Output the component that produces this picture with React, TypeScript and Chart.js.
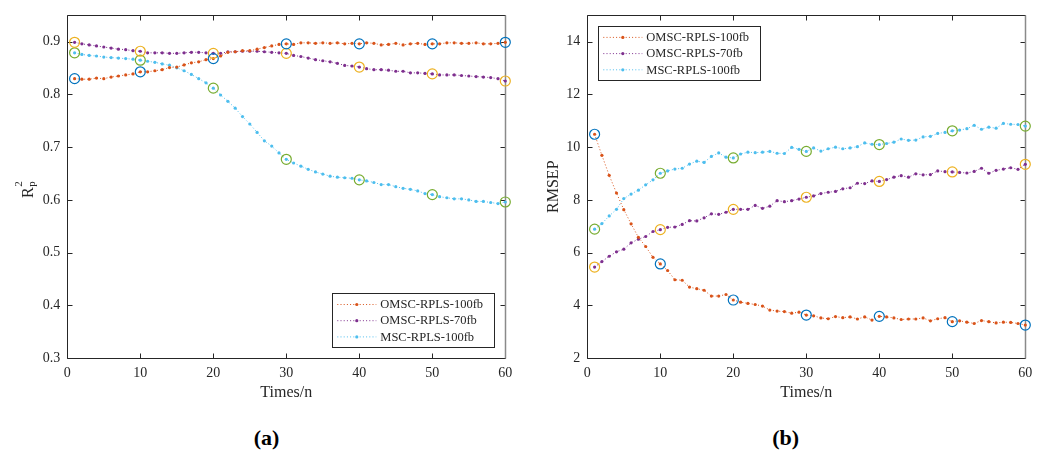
import React, { useEffect, useRef } from 'react';
import { Chart, registerables } from 'chart.js';

Chart.register(...registerables);

const times = [1, 2, 3, 4, 5, 6, 7, 8, 9, 10, 11, 12, 13, 14, 15, 16, 17, 18, 19, 20,
  21, 22, 23, 24, 25, 26, 27, 28, 29, 30, 31, 32, 33, 34, 35, 36, 37, 38, 39, 40,
  41, 42, 43, 44, 45, 46, 47, 48, 49, 50, 51, 52, 53, 54, 55, 56, 57, 58, 59, 60];
const markTimes = [1, 10, 20, 30, 40, 50, 60];
const xTicks = [0, 10, 20, 30, 40, 50, 60];
const r2Ticks = [0.3, 0.4, 0.5, 0.6, 0.7, 0.8, 0.9];
const rmsepTicks = [2, 4, 6, 8, 10, 12, 14];
const seriesNames = ['OMSC-RPLS-100fb', 'OMSC-RPLS-70fb', 'MSC-RPLS-100fb'];

const r2Omsc100 = [0.830, 0.829, 0.829, 0.831, 0.830, 0.833, 0.835, 0.837, 0.839, 0.843,
  0.843, 0.845, 0.847, 0.851, 0.852, 0.856, 0.860, 0.862, 0.866, 0.868,
  0.873, 0.880, 0.881, 0.883, 0.883, 0.886, 0.889, 0.892, 0.895, 0.896,
  0.895, 0.898, 0.898, 0.897, 0.898, 0.897, 0.898, 0.896, 0.897, 0.896,
  0.898, 0.897, 0.894, 0.895, 0.897, 0.894, 0.896, 0.897, 0.895, 0.896,
  0.896, 0.898, 0.898, 0.897, 0.897, 0.898, 0.896, 0.896, 0.897, 0.899];
const r2Omsc70 = [0.899, 0.896, 0.894, 0.892, 0.890, 0.888, 0.886, 0.885, 0.883, 0.882,
  0.879, 0.879, 0.879, 0.878, 0.878, 0.879, 0.880, 0.880, 0.879, 0.878,
  0.878, 0.881, 0.881, 0.882, 0.882, 0.882, 0.881, 0.880, 0.879, 0.878,
  0.874, 0.872, 0.869, 0.866, 0.864, 0.862, 0.859, 0.855, 0.854, 0.852,
  0.849, 0.847, 0.847, 0.846, 0.844, 0.844, 0.841, 0.841, 0.840, 0.839,
  0.837, 0.837, 0.837, 0.836, 0.835, 0.834, 0.833, 0.832, 0.830, 0.8255];
const r2Msc100 = [0.879, 0.876, 0.874, 0.873, 0.871, 0.870, 0.869, 0.868, 0.867, 0.865,
  0.863, 0.861, 0.858, 0.8555, 0.8505, 0.845, 0.838, 0.830, 0.822, 0.812,
  0.799, 0.787, 0.774, 0.758, 0.744, 0.728, 0.712, 0.702, 0.689, 0.677,
  0.670, 0.664, 0.658, 0.653, 0.649, 0.645, 0.643, 0.642, 0.641, 0.638,
  0.636, 0.633, 0.629, 0.629, 0.625, 0.622, 0.620, 0.617, 0.612, 0.610,
  0.606, 0.604, 0.602, 0.602, 0.600, 0.597, 0.597, 0.595, 0.593, 0.596];

const rmsepOmsc100 = [10.49, 9.69, 8.93, 8.26, 7.63, 7.09, 6.58, 6.23, 5.82, 5.57,
  5.32, 4.97, 4.95, 4.69, 4.63, 4.57, 4.35, 4.35, 4.41, 4.20,
  4.12, 4.07, 4.03, 3.97, 3.82, 3.78, 3.76, 3.70, 3.74, 3.63,
  3.60, 3.52, 3.49, 3.57, 3.53, 3.56, 3.48, 3.56, 3.44, 3.58,
  3.56, 3.52, 3.46, 3.48, 3.48, 3.52, 3.41, 3.49, 3.53, 3.38,
  3.41, 3.36, 3.31, 3.42, 3.38, 3.33, 3.36, 3.35, 3.31, 3.25];
const rmsepOmsc70 = [5.45, 5.66, 5.86, 6.03, 6.13, 6.37, 6.51, 6.61, 6.80, 6.87,
  6.96, 6.97, 7.07, 7.21, 7.20, 7.32, 7.47, 7.45, 7.53, 7.64,
  7.64, 7.64, 7.79, 7.68, 7.76, 7.97, 7.93, 7.97, 8.03, 8.10,
  8.15, 8.24, 8.29, 8.32, 8.42, 8.46, 8.63, 8.62, 8.72, 8.70,
  8.77, 8.86, 8.92, 8.86, 8.99, 8.95, 8.96, 9.10, 9.07, 9.06,
  9.04, 9.02, 9.08, 9.20, 9.01, 9.12, 9.17, 9.22, 9.16, 9.35];
const rmsepMsc100 = [6.89, 7.10, 7.39, 7.64, 8.05, 8.22, 8.37, 8.57, 8.76, 9.01,
  9.10, 9.17, 9.20, 9.36, 9.47, 9.42, 9.65, 9.78, 9.62, 9.59,
  9.74, 9.81, 9.79, 9.81, 9.84, 9.77, 9.76, 9.99, 9.92, 9.84,
  9.97, 9.85, 9.94, 10.00, 9.94, 9.97, 10.02, 10.16, 10.11, 10.10,
  10.14, 10.19, 10.31, 10.26, 10.27, 10.39, 10.41, 10.52, 10.56, 10.62,
  10.65, 10.70, 10.83, 10.68, 10.76, 10.72, 10.90, 10.87, 10.86, 10.80];

const FONT = "'Liberation Serif', 'Times New Roman', Times, serif";
const INK = '#262626';
const lineColors = ['#D95319', '#7E2F8E', '#4DBEEE'];
const ringColors = ['#0072BD', '#EDB120', '#77AC30'];

type PanelProps = {
  series: number[][];
  yMin: number;
  yMax: number;
  yTicks: number[];
  yTitle: string | null;
  legendCorner: 'br' | 'tl';
};

const framePlugin = {
  id: 'frame',
  beforeDatasetsDraw(chart: any) {
    const { ctx, chartArea: a, scales } = chart;
    ctx.save();
    ctx.strokeStyle = INK;
    ctx.lineWidth = 1;
    const L = Math.round(a.left) + 0.5, R = Math.round(a.right) + 0.5;
    const T = Math.round(a.top) + 0.5, B = Math.round(a.bottom) + 0.5;
    ctx.beginPath();
    ctx.moveTo(R, T); ctx.lineTo(L, T); ctx.lineTo(L, B); ctx.lineTo(R, B);
    ctx.stroke();
    ctx.beginPath();
    const tl = 5;
    scales.x.ticks.forEach((t: any) => {
      const px = Math.round(scales.x.getPixelForValue(t.value)) + 0.5;
      ctx.moveTo(px, B); ctx.lineTo(px, B - tl);
      ctx.moveTo(px, T); ctx.lineTo(px, T + tl);
    });
    scales.y.ticks.forEach((t: any) => {
      const py = Math.round(scales.y.getPixelForValue(t.value)) + 0.5;
      ctx.moveTo(L, py); ctx.lineTo(L + tl, py);
      ctx.moveTo(R, py); ctx.lineTo(R - tl, py);
    });
    ctx.stroke();
    ctx.strokeStyle = '#8a8a8a';
    ctx.lineWidth = 1.5;
    ctx.beginPath();
    ctx.moveTo(R, T); ctx.lineTo(R, B);
    ctx.stroke();
    ctx.restore();
  },
};

const legendPlugin = {
  id: 'boxLegend',
  afterDatasetsDraw(chart: any, _args: any, opts: any) {
    const { ctx, chartArea: a } = chart;
    const w = 162, h = 54;
    const left = opts.corner === 'br' ? a.right - 11 - w : a.left + 11;
    const top = opts.corner === 'br' ? a.bottom - 11 - h : a.top + 10.5;
    ctx.save();
    ctx.fillStyle = '#ffffff';
    ctx.fillRect(left, top, w, h);
    ctx.strokeStyle = INK;
    ctx.lineWidth = 1;
    ctx.strokeRect(Math.round(left) + 0.5, Math.round(top) + 0.5, w, h);
    const items = chart.data.datasets.filter((d: any) => !String(d.label).startsWith('_'));
    items.forEach((d: any, i: number) => {
      const y = top + 11.5 + i * 16.2;
      ctx.strokeStyle = d.borderColor;
      ctx.lineWidth = 1;
      ctx.setLineDash([1, 2.2]);
      ctx.beginPath();
      ctx.moveTo(left + 5, y); ctx.lineTo(left + 44, y);
      ctx.stroke();
      ctx.setLineDash([]);
      ctx.fillStyle = d.borderColor;
      ctx.beginPath();
      ctx.arc(left + 24.5, y, 1.6, 0, Math.PI * 2);
      ctx.fill();
      ctx.fillStyle = INK;
      ctx.font = `12.5px ${FONT}`;
      ctx.textAlign = 'left';
      ctx.textBaseline = 'middle';
      ctx.fillText(d.label, left + 48, y + 0.5);
    });
    ctx.restore();
  },
};

const r2TitlePlugin = {
  id: 'r2Title',
  afterDraw(chart: any, _args: any, opts: any) {
    if (!opts.show) return;
    const { ctx } = chart;
    ctx.save();
    ctx.translate(33, 198);
    ctx.rotate(-Math.PI / 2);
    ctx.fillStyle = INK;
    ctx.textAlign = 'left';
    ctx.textBaseline = 'alphabetic';
    ctx.font = `16px ${FONT}`;
    ctx.fillText('R', 0, 0);
    const w = ctx.measureText('R').width;
    ctx.font = `11px ${FONT}`;
    ctx.fillText('2', w + 0.5, -11);
    ctx.fillText('p', w + 0.5, 2);
    ctx.restore();
  },
};

function Panel({ series, yMin, yMax, yTicks, yTitle, legendCorner }: PanelProps) {
  const ref = useRef<HTMLCanvasElement>(null);
  useEffect(() => {
    const canvas = ref.current;
    if (!canvas) return;
    const datasets: any[] = [];
    series.forEach((vals, i) => {
      datasets.push({
        label: seriesNames[i],
        data: times.map((t, k) => ({ x: t, y: vals[k] })),
        borderColor: lineColors[i],
        backgroundColor: lineColors[i],
        borderWidth: 1,
        borderDash: [1, 2.2],
        pointRadius: 1.6,
        pointHoverRadius: 1.6,
        pointBackgroundColor: lineColors[i],
        pointBorderWidth: 0,
        tension: 0,
        fill: false,
        clip: false,
        order: 2 + i,
      });
    });
    series.forEach((vals, i) => {
      datasets.push({
        label: '_ring' + i,
        data: markTimes.map((t) => ({ x: t, y: vals[times.indexOf(t)] })),
        showLine: false,
        pointRadius: 5,
        pointHoverRadius: 5,
        pointBorderWidth: 1.2,
        pointBorderColor: ringColors[i],
        pointBackgroundColor: 'rgba(0,0,0,0)',
        borderColor: ringColors[i],
        clip: false,
        order: 0,
      });
    });
    const tickFont = { family: FONT, size: 14 };
    const chart = new Chart(canvas, {
      type: 'line',
      data: { datasets },
      options: {
        responsive: false,
        animation: false,
        events: [],
        layout: { padding: { left: 0, right: 14.7, top: 12.7, bottom: 0 } },
        plugins: {
          legend: { display: false },
          tooltip: { enabled: false },
          boxLegend: { corner: legendCorner },
          r2Title: { show: yTitle === null },
        } as any,
        scales: {
          x: {
            type: 'linear',
            min: 0,
            max: 60,
            afterBuildTicks: (s: any) => { s.ticks = xTicks.map((v) => ({ value: v })); },
            afterFit: (s: any) => { s.height = 52; },
            grid: { display: false, drawTicks: false },
            border: { display: false },
            ticks: { padding: 7, color: INK, font: tickFont, maxRotation: 0, autoSkip: false },
            title: { display: true, text: 'Times/n', color: INK, font: { family: FONT, size: 16 }, padding: { top: 0, bottom: 8 } },
          },
          y: {
            type: 'linear',
            min: yMin,
            max: yMax,
            afterBuildTicks: (s: any) => { s.ticks = yTicks.map((v) => ({ value: v })); },
            afterFit: (s: any) => { s.width = 67.3; },
            grid: { display: false, drawTicks: false },
            border: { display: false },
            ticks: { padding: 7, color: INK, font: tickFont, autoSkip: false },
            title: { display: yTitle !== null, text: yTitle || '', color: INK, font: { family: FONT, size: 16 }, padding: { top: 24, bottom: 0 } },
          },
        },
      } as any,
      plugins: [framePlugin, legendPlugin, r2TitlePlugin],
    });
    return () => chart.destroy();
  }, []);
  return <canvas ref={ref} width={520} height={410} style={{ display: 'block', width: 520, height: 410 }} />;
}

const captionStyle: React.CSSProperties = {
  position: 'absolute',
  top: 424,
  width: 200,
  textAlign: 'center',
  font: `bold 22px ${FONT}`,
  color: '#000',
  lineHeight: '28px',
};

export default function App() {
  return (
    <div style={{ position: 'absolute', left: 0, top: 0, width: 1043, height: 453, background: '#fff', overflow: 'hidden' }}>
      <div style={{ position: 'absolute', left: 0, top: 0 }}>
        <Panel series={[r2Omsc100, r2Omsc70, r2Msc100]} yMin={0.3} yMax={0.95} yTicks={r2Ticks} yTitle={null} legendCorner="br" />
      </div>
      <div style={{ position: 'absolute', left: 520, top: 0 }}>
        <Panel series={[rmsepOmsc100, rmsepOmsc70, rmsepMsc100]} yMin={2} yMax={15} yTicks={rmsepTicks} yTitle="RMSEP" legendCorner="tl" />
      </div>
      <div style={{ ...captionStyle, left: 166.5 }}>(a)</div>
      <div style={{ ...captionStyle, left: 685.7 }}>(b)</div>
    </div>
  );
}
